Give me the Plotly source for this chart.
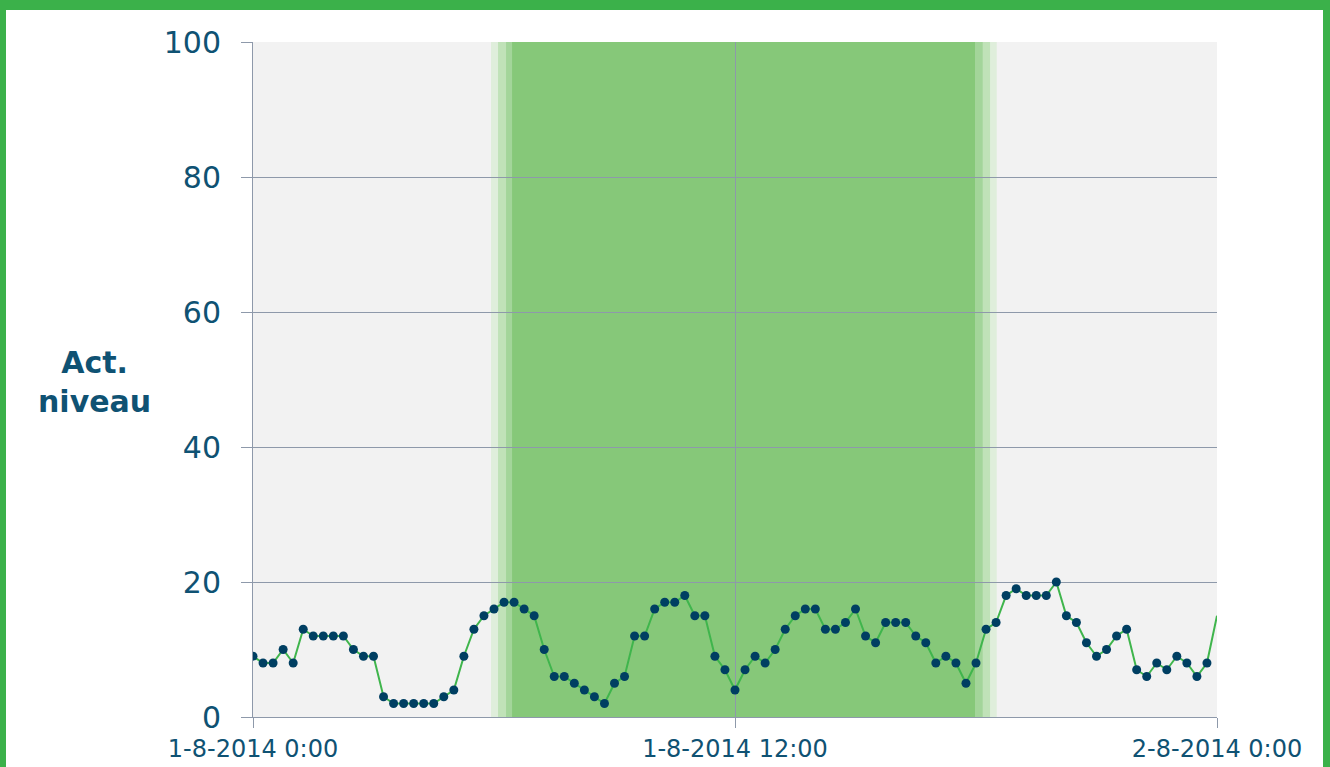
import plotly.graph_objects as go
import pandas as pd

# ---- data ----
start_time = "2014-08-01 00:00"
interval_minutes = 15
levels = [9, 8, 8, 10, 8, 13, 12, 12, 12, 12, 10, 9, 9, 3, 2, 2, 2, 2, 2, 3, 4, 9, 13, 15,
          16, 17, 17, 16, 15, 10, 6, 6, 5, 4, 3, 2, 5, 6, 12, 12, 16, 17, 17, 18, 15, 15, 9, 7,
          4, 7, 9, 8, 10, 13, 15, 16, 16, 13, 13, 14, 16, 12, 11, 14, 14, 14, 12, 11, 8, 9, 8, 5,
          8, 13, 14, 18, 19, 18, 18, 18, 20, 15, 14, 11, 9, 10, 12, 13, 7, 6, 8, 7, 9, 8, 6, 8,
          15]
# daylight bands (outer to inner): start, end
band_starts = ["2014-08-01 05:55:30", "2014-08-01 06:06", "2014-08-01 06:18", "2014-08-01 06:27"]
band_ends = ["2014-08-01 18:31", "2014-08-01 18:21", "2014-08-01 18:10", "2014-08-01 17:58:30"]
band_colors = ["#dfeedb", "#c0e2b8", "#a3d59a", "#86c879"]
x_tickvals = ["2014-08-01 00:00", "2014-08-01 12:00", "2014-08-02 00:00"]
x_ticktext = ["1-8-2014 0:00", "1-8-2014 12:00", "2-8-2014 0:00"]
y_tickvals = [0, 20, 40, 60, 80, 100]
y_title = "Act.<br>niveau"

times = pd.date_range(start_time, periods=len(levels), freq=f"{interval_minutes}min")

TEXT = "#0f5273"
GRID = "#8e99aa"
GREEN = "#3bb14a"
W, H = 1330, 767
L, R, T, B = 253, 113, 42, 50
PW, PH = W - L - R, H - T - B


def px_x(px):
    return (px - L) / PW


def px_y(py):
    return (H - B - py) / PH


fig = go.Figure()
marker_sizes = [9] * (len(levels) - 1) + [0]
fig.add_trace(go.Scatter(
    x=times, y=levels, mode="lines+markers",
    line=dict(color="#3fb54c", width=2),
    marker=dict(color="#003f62", size=marker_sizes, line=dict(width=0), opacity=1),
    hoverinfo="x+y", showlegend=False,
))

shapes = []
for s, e, c in zip(band_starts, band_ends, band_colors):
    shapes.append(dict(type="rect", xref="x", yref="paper", x0=s, x1=e, y0=0, y1=1,
                       fillcolor=c, line=dict(width=0), layer="below"))

# green frame around the figure
frame = [(0, 6, 0, H), (0, W, 0, 10), (1323, W, 0, H)]
for x0, x1, y0, y1 in frame:
    shapes.append(dict(type="rect", xref="paper", yref="paper",
                       x0=px_x(x0), x1=px_x(x1), y0=px_y(y1), y1=px_y(y0),
                       fillcolor=GREEN, line=dict(width=0), layer="above"))

fig.update_layout(
    width=W, height=H, autosize=False,
    margin=dict(l=L, r=R, t=T, b=B, pad=0, autoexpand=False),
    paper_bgcolor="white", plot_bgcolor="#f2f2f2",
    font=dict(family="DejaVu Sans, Verdana, sans-serif", color=TEXT),
    shapes=shapes,
    xaxis=dict(
        type="date", range=[x_tickvals[0], x_tickvals[-1]],
        tickmode="array", tickvals=x_tickvals, ticktext=x_ticktext,
        showgrid=True, gridcolor=GRID, gridwidth=1,
        showline=True, linecolor=GRID, linewidth=1,
        ticks="outside", ticklen=10, tickcolor=GRID,
        tickfont=dict(size=24, color=TEXT), zeroline=False,
        automargin=False, fixedrange=True,
    ),
    yaxis=dict(
        range=[0, 100], tickmode="array", tickvals=y_tickvals,
        showgrid=True, gridcolor=GRID, gridwidth=1,
        showline=True, linecolor=GRID, linewidth=1,
        ticks="outside", ticklen=11, tickcolor=GRID,
        tickfont=dict(size=30, color=TEXT), zeroline=False,
        ticklabelstandoff=14, automargin=False, fixedrange=True,
    ),
    annotations=[dict(
        text=y_title, xref="paper", yref="paper",
        x=px_x(94), y=px_y(382), xanchor="center", yanchor="middle",
        showarrow=False, align="center",
        font=dict(size=30, color=TEXT, family="DejaVu Sans, Verdana, sans-serif", weight="bold"),
    )],
)

fig.write_html("out.html", config={"displayModeBar": False},
               post_script="document.body.style.margin='0';")
